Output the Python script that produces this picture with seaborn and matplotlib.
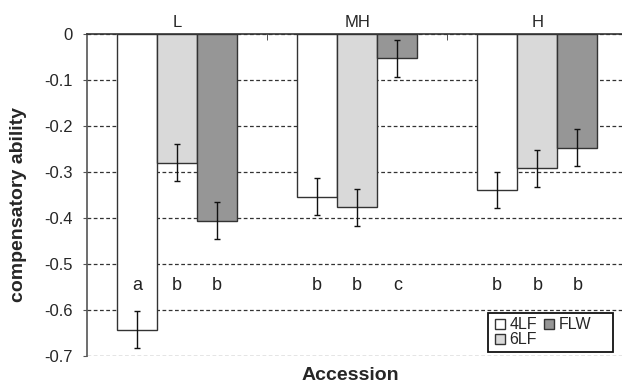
import numpy as np
import pandas as pd
import matplotlib
matplotlib.use("Agg")
import matplotlib.pyplot as plt
from matplotlib.patches import Rectangle
import seaborn as sns

# datos
accession = ["L", "MH", "H"]
treatments = ["4LF", "6LF", "FLW"]
val_4LF = [-0.643, -0.354, -0.339]
val_6LF = [-0.280, -0.377, -0.292]
val_FLW = [-0.406, -0.053, -0.247]
err_4LF = [0.040, 0.040, 0.040]
err_6LF = [0.040, 0.040, 0.040]
err_FLW = [0.040, 0.040, 0.040]
letras_4LF = ["a", "b", "b"]
letras_6LF = ["b", "b", "b"]
letras_FLW = ["b", "c", "b"]
colores = ["#ffffff", "#d9d9d9", "#969696"]

df = pd.DataFrame({
    "Accession": accession * 3,
    "trat": ["4LF"] * 3 + ["6LF"] * 3 + ["FLW"] * 3,
    "valor": val_4LF + val_6LF + val_FLW,
})
errores = [err_4LF, err_6LF, err_FLW]
letras = [letras_4LF, letras_6LF, letras_FLW]

sns.set_style("white")
plt.rcParams["font.family"] = ["Liberation Sans", "DejaVu Sans"]

fig = plt.figure(figsize=(6.22, 3.87), dpi=100)
ax = fig.add_axes([87 / 622, 1 - 356 / 387, 535 / 622, 322 / 387])

sns.barplot(data=df, x="Accession", y="valor", hue="trat", order=accession,
            hue_order=treatments, palette=colores, width=0.667, gap=0,
            errorbar=None, edgecolor="#333333", linewidth=1.0, ax=ax, zorder=3)

# barras de error y letras
for cont, err, let in zip(ax.containers, errores, letras):
    for bar, e, l in zip(cont, err, let):
        xc = bar.get_x() + bar.get_width() / 2
        yv = bar.get_y() + bar.get_height()
        ax.errorbar(xc, yv, yerr=e, color="#111111", capsize=2.5, elinewidth=1.0,
                    capthick=1.0, zorder=4)
        ax.text(xc, -0.546, l, ha="center", va="center", fontsize=13, color="#222222", zorder=5)

ax.set_ylim(-0.7, 0)
ax.set_xlim(-0.5, 2.47)
ax.set_yticks(np.arange(-0.7, 0.01, 0.1))
ax.set_yticklabels(["-0.7", "-0.6", "-0.5", "-0.4", "-0.3", "-0.2", "-0.1", "0"])
ax.yaxis.grid(True, linestyle=(0, (3, 2)), color="#333333", linewidth=0.9)
ax.set_axisbelow(True)

ax.xaxis.tick_top()
ax.tick_params(axis="x", which="major", length=0, labelsize=12, pad=3)
ax.set_xticks([0.5, 1.5], minor=True)
ax.tick_params(axis="x", which="minor", direction="in", length=4, color="#333333", top=True)
ax.tick_params(axis="y", which="major", direction="out", length=3, labelsize=12,
               left=True, color="#555555", pad=7)

for s in ["bottom", "right"]:
    ax.spines[s].set_visible(False)
ax.spines["top"].set_color("#333333")
ax.spines["top"].set_linewidth(1.2)
ax.spines["left"].set_color("#555555")
ax.spines["left"].set_linewidth(1.2)

ax.set_ylabel("compensatory ability", fontsize=14, fontweight="bold")
ax.yaxis.set_label_coords(-0.112, 0.472)
ax.set_xlabel("")
fig.text(350 / 622, 1 - 375 / 387, "Accession", ha="center", va="center",
         fontsize=14, fontweight="bold")

# leyenda con marco propio
ax.add_patch(Rectangle((0.7495, 0.0124), 0.2335, 0.121, transform=ax.transAxes,
                       facecolor="white", edgecolor="#111111", linewidth=1.3, zorder=6))
leg = ax.legend(ncol=2, loc="upper left", bbox_to_anchor=(0.7626, 0.12), frameon=False,
                fontsize=11.5, handlelength=0.6, handleheight=0.6,
                handletextpad=0.3, columnspacing=0.45, labelspacing=0.0, borderpad=0,
                borderaxespad=0)
leg.set_zorder(7)

fig.savefig("out.png", dpi=100)
